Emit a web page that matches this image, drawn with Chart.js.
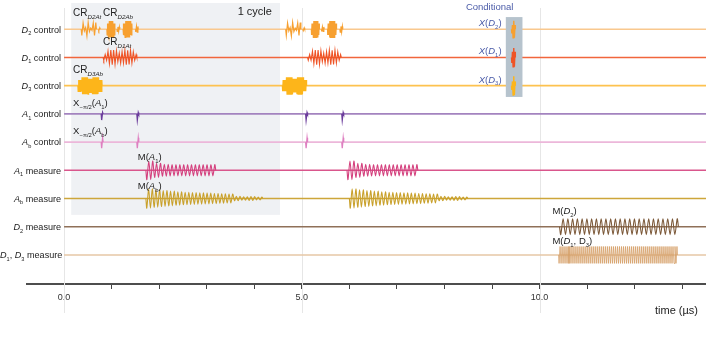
<!DOCTYPE html>
<html><head><meta charset="utf-8">
<script src="https://cdn.jsdelivr.net/npm/chart.js@4"></script>
<style>html,body{margin:0;padding:0;background:#fff}</style>
</head><body>
<canvas id="c" width="706" height="347"></canvas>
<script>
// ---------- data ----------
const rowLabels = [
  '<i>D</i><sub>2</sub> control',
  '<i>D</i><sub>1</sub> control',
  '<i>D</i><sub>3</sub> control',
  '<i>A</i><sub>1</sub> control',
  '<i>A</i><sub>b</sub> control',
  '<i>A</i><sub>1</sub> measure',
  '<i>A</i><sub>b</sub> measure',
  '<i>D</i><sub>2</sub> measure',
  '<i>D</i><sub>1</sub>, <i>D</i><sub>3</sub> measure'
];
const xTickValues = [0, 5, 10];
const xTickLabels = ['0.0', '5.0', '10.0'];
const timeStart = 0, timeEnd = 13.5;

// pulse = [start (µs), end (µs), cycles, amplitude envelope (row units)]
const d2ControlPulses = [
  [0.36, 0.68, 6, [0.22, 0.06, 0.24, 0.08, 0.04, 0.22, 0.24]],
  [0.72, 0.76, 1, [0.05]],
  [0.90, 1.07, 9, [0.2, 0.29, 0.29, 0.29, 0.2]],
  [1.11, 1.17, 2, [0.08]],
  [1.24, 1.43, 10, [0.2, 0.29, 0.29, 0.29, 0.2]],
  [1.50, 1.56, 2, [0.1]],
  [4.66, 4.98, 6, [0.22, 0.06, 0.24, 0.08, 0.04, 0.22, 0.24]],
  [5.02, 5.06, 1, [0.05]],
  [5.20, 5.37, 9, [0.2, 0.29, 0.29, 0.29, 0.2]],
  [5.41, 5.47, 2, [0.08]],
  [5.54, 5.73, 10, [0.2, 0.29, 0.29, 0.29, 0.2]],
  [5.80, 5.86, 2, [0.1]]
];
const d1ControlPulses = [
  [0.82, 1.53, 12, [0.1, 0.22, 0.26, 0.24, 0.15, 0.2, 0.26, 0.25, 0.2, 0.1]],
  [5.12, 5.83, 12, [0.1, 0.22, 0.26, 0.24, 0.15, 0.2, 0.26, 0.25, 0.2, 0.1]]
];
const d3ControlPulses = [
  [0.29, 0.80, 22, [0.2, 0.3, 0.3, 0.24, 0.3, 0.3, 0.2]],
  [4.59, 5.10, 22, [0.2, 0.3, 0.3, 0.24, 0.3, 0.3, 0.2]]
];
const a1ControlPulses = [
  [0.78, 0.82, 1, [0.22, 0.05]],
  [1.53, 1.57, 1, [0.22, 0.05]],
  [5.08, 5.12, 1, [0.22, 0.05]],
  [5.84, 5.88, 1, [0.22, 0.05]]
];
const abControlPulses = [
  [0.78, 0.82, 1, [0.22, 0.15]],
  [1.53, 1.57, 1, [0.22, 0.15]],
  [5.08, 5.12, 1, [0.22, 0.15]],
  [5.84, 5.88, 1, [0.22, 0.15]]
];
const a1MeasurePulses = [
  [1.72, 3.19, 18, [0.33, 0.25, 0.21, 0.2, 0.2, 0.2, 0.2, 0.2, 0.2]],
  [5.95, 7.44, 18, [0.33, 0.25, 0.21, 0.2, 0.2, 0.2, 0.2, 0.2, 0.2]]
];
const abMeasurePulses = [
  [1.72, 4.18, 32, [0.34, 0.31, 0.28, 0.26, 0.24, 0.22, 0.21, 0.2, 0.19, 0.18, 0.17, 0.16, 0.08, 0.06, 0.07, 0.05]],
  [6.00, 8.49, 32, [0.34, 0.31, 0.28, 0.26, 0.24, 0.22, 0.21, 0.2, 0.19, 0.18, 0.17, 0.16, 0.08, 0.06, 0.07, 0.05]]
];
const d2MeasurePulses = [
  [10.42, 12.92, 25, [0.28]]
];
const d13MeasurePulses = [
  [10.40, 12.90, 60, [0.3]]
];
const conditionalD2 = [[9.41, 9.49, 3, [0.15, 0.3, 0.3, 0.15]]];
const conditionalD1 = [[9.41, 9.49, 3, [0.2, 0.33, 0.33, 0.2]]];
const conditionalD3 = [[9.41, 9.49, 3, [0.15, 0.33, 0.33, 0.15]]];

const rowPulses = [d2ControlPulses, d1ControlPulses, d3ControlPulses, a1ControlPulses,
  abControlPulses, a1MeasurePulses, abMeasurePulses, d2MeasurePulses, d13MeasurePulses];
const conditionalPulses = [conditionalD2, conditionalD1, conditionalD3];

// ---------- styles ----------
const rowStyles = [
  {base: '#f9c88e', pulse: '#f7a030', w: 1.2, tension: 0},
  {base: '#f1663c', pulse: '#ef5426', w: 1.1, tension: 0},
  {base: '#fdc24f', pulse: '#fdb51a', w: 1.2, tension: 0},
  {base: '#a383bf', pulse: '#6b3c9c', w: 1.3, tension: 0},
  {base: '#ecb7da', pulse: '#de7fc0', w: 1.3, tension: 0},
  {base: '#d9568c', pulse: '#d4417e', w: 1.1, tension: 0.3},
  {base: '#cda63a', pulse: '#c9a12c', w: 1.1, tension: 0.3},
  {base: '#8f7058', pulse: '#7c5939', w: 1.1, tension: 0.3},
  {base: '#e6c7a6', pulse: '#d6a068', w: 0.8, tension: 0}
];
const cycleBox = {x0: 0.15, x1: 4.54, y0: -0.93, y1: 6.58, color: '#eff1f4'};
const condBox = {x0: 9.29, x1: 9.64, y0: -0.43, y1: 2.4, color: '#b6c3cd'};
const FONT = '"Liberation Sans", Arial, Helvetica, sans-serif';

const annotations = [
  {m: 'CR<sub><i>D2At</i></sub>', x: 0.19, y: -0.47, align: 'left', size: 10, color: '#222'},
  {m: 'CR<sub><i>D2Ab</i></sub>', x: 0.82, y: -0.47, align: 'left', size: 10, color: '#222'},
  {m: 'CR<sub><i>D1At</i></sub>', x: 0.82, y: 0.56, align: 'left', size: 10, color: '#222'},
  {m: 'CR<sub><i>D3Ab</i></sub>', x: 0.19, y: 1.55, align: 'left', size: 10, color: '#222'},
  {m: 'X<sub>−π/2</sub>(<i>A</i><sub>1</sub>)', x: 0.19, y: 2.72, align: 'left', size: 9.5, color: '#222'},
  {m: 'X<sub>−π/2</sub>(<i>A</i><sub>b</sub>)', x: 0.19, y: 3.71, align: 'left', size: 9.5, color: '#222'},
  {m: 'M(<i>A</i><sub>1</sub>)', x: 1.55, y: 4.63, align: 'left', size: 9.5, color: '#222'},
  {m: 'M(<i>A</i><sub>b</sub>)', x: 1.55, y: 5.66, align: 'left', size: 9.5, color: '#222'},
  {m: 'M(<i>D</i><sub>2</sub>)', x: 10.27, y: 6.55, align: 'left', size: 9.5, color: '#222'},
  {m: 'M(<i>D</i><sub>1</sub>, D<sub>3</sub>)', x: 10.27, y: 7.61, align: 'left', size: 9.5, color: '#222'},
  {m: '<i>X</i>(<i>D</i><sub>2</sub>)', x: 9.2, y: -0.11, align: 'right', size: 9.5, color: '#4a5ba8'},
  {m: '<i>X</i>(<i>D</i><sub>1</sub>)', x: 9.2, y: 0.88, align: 'right', size: 9.5, color: '#4a5ba8'},
  {m: '<i>X</i>(<i>D</i><sub>3</sub>)', x: 9.2, y: 1.9, align: 'right', size: 9.5, color: '#4a5ba8'},
  {m: 'Conditional', x: 8.95, y: -0.68, align: 'center', size: 9.5, color: '#4a5ba8'},
  {m: '1 cycle', x: 4.01, y: -0.51, align: 'center', size: 11, color: '#222'}
];

// ---------- build datasets ----------
function pulseToPoints(row, p, out) {
  const [t0, t1, n, env] = p;
  const m = 2 * n;
  out.push({x: t0, y: row});
  for (let k = 0; k < m; k++) {
    const t = t0 + (t1 - t0) * (k + 0.5) / m;
    const a = env[Math.min(env.length - 1, Math.floor(k / m * env.length))];
    out.push({x: t, y: row + (k % 2 === 0 ? a : -a)});
  }
  out.push({x: t1, y: row});
  out.push({x: t1, y: null});
}
const datasets = [];
rowLabels.forEach((lab, r) => {
  datasets.push({
    data: [{x: timeStart, y: r}, {x: timeEnd, y: r}],
    borderColor: rowStyles[r].base, borderWidth: 1.6, pointRadius: 0, order: 10
  });
  const pts = [];
  rowPulses[r].forEach(p => pulseToPoints(r, p, pts));
  datasets.push({
    data: pts, borderColor: rowStyles[r].pulse, borderWidth: rowStyles[r].w, pointRadius: 0,
    tension: rowStyles[r].tension, spanGaps: false, order: 0
  });
});
conditionalPulses.forEach((arr, r) => {
  const pts = [];
  arr.forEach(p => pulseToPoints(r, p, pts));
  datasets.push({
    data: pts, borderColor: rowStyles[r].pulse, borderWidth: 1.4, pointRadius: 0,
    spanGaps: false, order: 5, condLayer: true
  });
});

// ---------- rich text ----------
function drawRich(ctx, markup, x, y, size, align, color) {
  const segs = []; let italic = false, sub = false;
  markup.split(/(<\/?i>|<\/?sub>)/).forEach(tok => {
    if (tok === '<i>') italic = true;
    else if (tok === '</i>') italic = false;
    else if (tok === '<sub>') sub = true;
    else if (tok === '</sub>') sub = false;
    else if (tok) segs.push({t: tok, italic, sub});
  });
  const font = s => (s.italic ? 'italic ' : '') + (s.sub ? size * 0.62 : size) + 'px ' + FONT;
  let w = 0;
  segs.forEach(s => { ctx.font = font(s); s.w = ctx.measureText(s.t).width; w += s.w; });
  let cx = align === 'right' ? x - w : align === 'center' ? x - w / 2 : x;
  if (cx < 0) cx = 0;
  ctx.textAlign = 'left'; ctx.textBaseline = 'alphabetic'; ctx.fillStyle = color;
  segs.forEach(s => {
    ctx.font = font(s);
    ctx.fillText(s.t, cx, s.sub ? y + size * 0.28 : y);
    cx += s.w;
  });
}

const decor = {
  id: 'decor',
  beforeDatasetsDraw(chart) {
    const {ctx, scales: {x, y}} = chart;
    ctx.save();
    ctx.strokeStyle = '#e6e6e6'; ctx.lineWidth = 1;
    xTickValues.forEach(v => {
      const px = Math.round(x.getPixelForValue(v)) + 0.5;
      ctx.beginPath(); ctx.moveTo(px, 8); ctx.lineTo(px, 313); ctx.stroke();
    });
    ctx.fillStyle = cycleBox.color;
    const bx0 = x.getPixelForValue(cycleBox.x0), bx1 = x.getPixelForValue(cycleBox.x1);
    const by0 = y.getPixelForValue(cycleBox.y0), by1 = y.getPixelForValue(cycleBox.y1);
    ctx.fillRect(bx0, by0, bx1 - bx0, by1 - by0);
    ctx.restore();
    chart.$condDrawn = false;
  },
  beforeDatasetDraw(chart, args) {
    const ds = chart.data.datasets[args.index];
    if (ds.condLayer && !chart.$condDrawn) {
      chart.$condDrawn = true;
      const {ctx, scales: {x, y}} = chart;
      const bx0 = x.getPixelForValue(condBox.x0), bx1 = x.getPixelForValue(condBox.x1);
      const by0 = y.getPixelForValue(condBox.y0), by1 = y.getPixelForValue(condBox.y1);
      ctx.save(); ctx.fillStyle = condBox.color;
      ctx.fillRect(bx0, by0, bx1 - bx0, by1 - by0); ctx.restore();
    }
  },
  afterDraw(chart) {
    const {ctx, scales: {x, y}} = chart;
    ctx.save();
    const lx = x.getPixelForValue(0) - 3;
    rowLabels.forEach((lab, r) => {
      drawRich(ctx, lab, lx, y.getPixelForValue(r) + 3.3, 9.1, 'right', '#222');
    });
    annotations.forEach(a => {
      drawRich(ctx, a.m, x.getPixelForValue(a.x), y.getPixelForValue(a.y), a.size, a.align, a.color);
    });
    drawRich(ctx, 'time (µs)', 698, 314, 11, 'right', '#222');
    ctx.restore();
  }
};

new Chart(document.getElementById('c'), {
  type: 'line',
  data: {datasets},
  options: {
    responsive: false, animation: false, devicePixelRatio: 1,
    layout: {padding: {left: 27, right: 0, top: 1, bottom: 0}},
    plugins: {legend: {display: false}, tooltip: {enabled: false}},
    elements: {line: {tension: 0}},
    scales: {
      x: {
        type: 'linear', min: -0.78, max: 13.5,
        afterFit: s => { s.height = 63; },
        ticks: {
          stepSize: 1, includeBounds: false, autoSkip: false, maxRotation: 0, padding: 3,
          font: {size: 9, family: FONT}, color: '#333',
          callback: v => { const i = xTickValues.indexOf(v); return i >= 0 ? xTickLabels[i] : ''; }
        },
        grid: {drawOnChartArea: false, drawTicks: true, tickLength: 5, tickColor: '#444', tickWidth: 1},
        border: {color: '#4d4d4d', width: 2}
      },
      y: {type: 'linear', reverse: true, min: -1, max: 9.03, display: false}
    }
  },
  plugins: [decor]
});
</script>
</body></html>
